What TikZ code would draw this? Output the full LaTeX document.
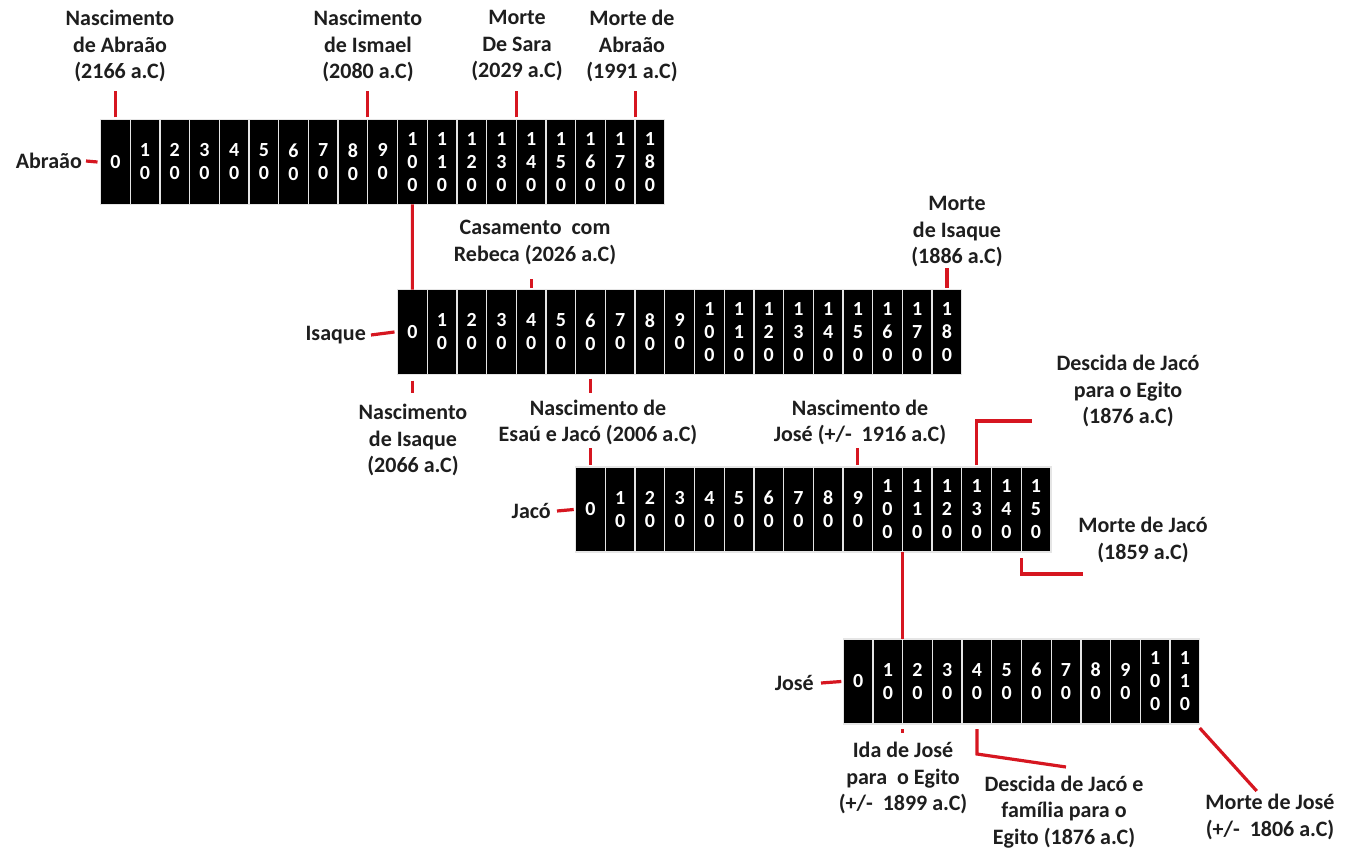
\documentclass[tikz,border=0pt]{standalone}
\usepackage{fontspec}
\setmainfont{Carlito}
\usetikzlibrary{calc}
\definecolor{tred}{RGB}{214,22,32}
\definecolor{ttext}{RGB}{30,30,30}
\tikzset{
 cell/.style={fill=black, draw=white!80!gray, line width=1.3pt, minimum width=29.7pt, minimum height=85pt, inner sep=0pt, outer sep=0pt, text=white, font=\fontsize{20}{23}\selectfont\bfseries, align=center},
 lab/.style={font=\fontsize{22}{26.5}\selectfont\bfseries, text=ttext, align=center, inner sep=0pt},
 who/.style={lab, anchor=east},
 tick/.style={draw=tred, line width=3.2pt},
}
\newcommand\timebar[4]{%
 \foreach \i in {0,...,#4}{%
   \pgfmathtruncatemacro\tens{\i-10}%
   \ifnum\i=0 \def\txt{0}\else\ifnum\i<10 \edef\txt{\i\noexpand\\0}\else\edef\txt{1\noexpand\\\tens\noexpand\\0}\fi\fi
   \node[cell] (#1\i) at ({#2+\i*29.7},#3) {\txt};
 }}
\begin{document}
\begin{tikzpicture}[x=1pt,y=-1pt]
\useasboundingbox[fill=white] (0,0) rectangle (1349,853);
% bars
\timebar{a}{115.35}{162}{18}
\timebar{i}{412.35}{332}{18}
\timebar{j}{590.55}{509.5}{15}
\timebar{s}{858.15}{681.5}{11}
% names
\node[who] (nA) at (82,161) {Abraão};
\node[who] (nI) at (366,335) {Isaque};
\node[who] (nJ) at (551,511) {Jacó};
\node[who] (nS) at (814,683) {José};
\draw[tick] ($(nA.east)+(4,0)$) -- ($(a0.west)+(-3,0)$);
\draw[tick] ($(nI.east)+(5,0)$) -- ($(i0.west)+(-3,0)$);
\draw[tick] ($(nJ.east)+(6,0)$) -- ($(j0.west)+(-2,0)$);
\draw[tick] ($(nS.east)+(7,0)$) -- ($(s0.west)+(-2,0)$);
% labels above Abraao
\node[lab] (l1) at (120,46) {Nascimento\\de Abraão\\(2166 a.C)};
\node[lab] (l2) at (368,46) {Nascimento\\de Ismael\\(2080 a.C)};
\node[lab] (l3) at (517,46) {Morte\\De Sara\\(2029 a.C)};
\node[lab] (l4) at (632,46) {Morte de\\Abraão\\(1991 a.C)};
\draw[tick] ($(a0.north)+(0,-2)$) -- ++(0,-26);
\draw[tick] ($(a8.north east)+(0,-2)$) -- ++(0,-26);
\draw[tick] ($(a13.north east)+(0,-2)$) -- ++(0,-26);
\draw[tick] ($(a17.north east)+(0,-2)$) -- ++(0,-26);
\draw[tick] (a10.south) -- (i0.north);
% Isaque labels
\node[lab] (l5) at (535,242.5) {Casamento~~com\\Rebeca (2026 a.C)};
\node[lab] (l6) at (957,232) {Morte\\de Isaque\\(1886 a.C)};
\node[lab] (l7) at (413,440) {Nascimento\\de Isaque\\(2066 a.C)};
\node[lab] (l8) at (598,422.5) {Nascimento de\\Esaú e Jacó (2006 a.C)};
\draw[tick] ($(i4.north)+(0,-2)$) -- ++(0,-9);
\draw[tick] ($(i18.north)+(0,-2)$) -- ++(0,-20);
\draw[tick] ($(i0.south)+(0,6)$) -- ++(0,12);
\draw[tick] ($(i6.south)+(0,4)$) -- ++(0,14);
\draw[tick] ($(j0.north)+(0,-2)$) -- ++(0,-17);
% Jaco labels
\node[lab] (l9) at (860,422.5) {Nascimento de\\José (+/-~ 1916 a.C)};
\node[lab] (l10) at (1128,391) {Descida de Jacó\\para o Egito\\(1876 a.C)};
\node[lab] (l11) at (1143,540) {Morte de Jacó\\(1859 a.C)};
\draw[tick] ($(j9.north)+(0,-2)$) -- ++(0,-17);
\draw[tick] ($(j13.north)+(0,-2)$) |- ++(55,-44);
\draw[tick] ($(j14.south east)+(0,6)$) |- ++(62,16);
\draw[tick] (j10.south east) -- (j10.south east |- s1.north);
% Jose labels
\node[lab] (l12) at (903,778) {Ida de José\\para~~o Egito\\(+/-~ 1899 a.C)};
\node[lab] (l13) at (1064,812) {Descida de Jacó e\\família para o\\Egito (1876 a.C)};
\node[lab] (l14) at (1270,817) {Morte de José\\(+/-~ 1806 a.C)};
\draw[tick] ($(s1.south east)+(0,5)$) -- ++(0,4);
\draw[tick] ($(s4.south)+(0,5)$) -- ++(0,25) -- ++(89,13);
\draw[tick] ($(s11.south east)+(0,4)$) -- ++(57,63);
\end{tikzpicture}
\end{document}
